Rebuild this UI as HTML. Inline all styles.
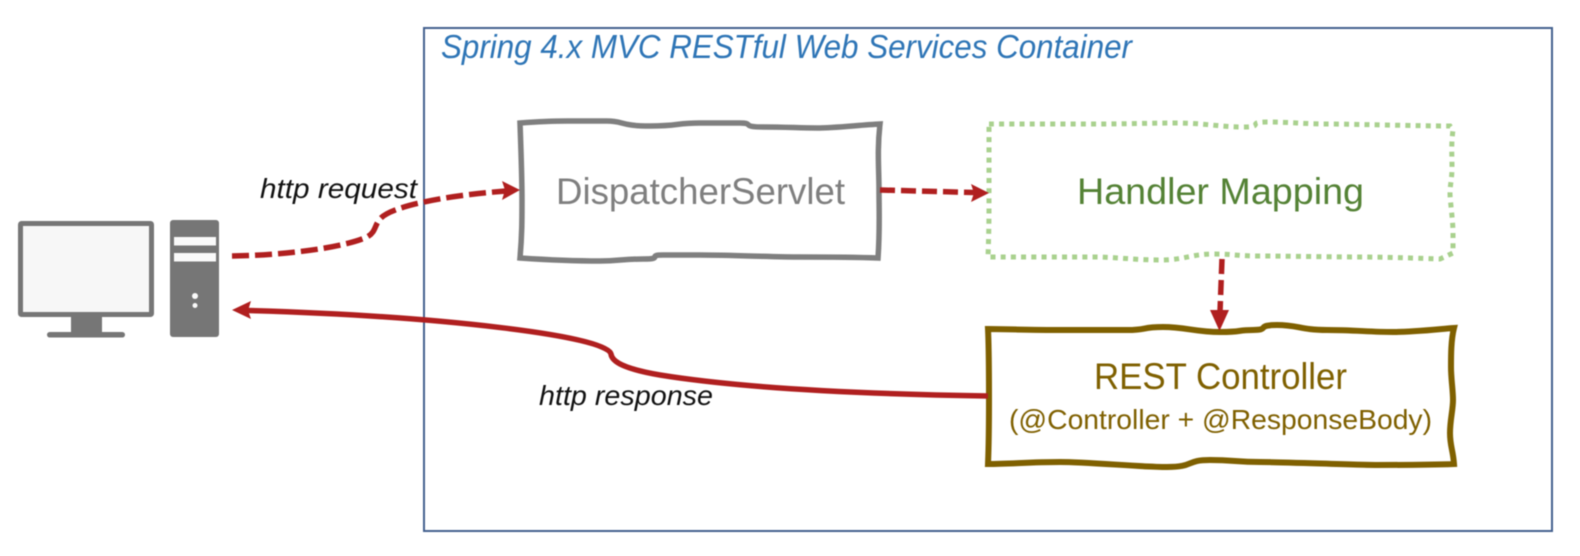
<!DOCTYPE html>
<html>
<head>
<meta charset="utf-8">
<style>
html,body{margin:0;padding:0;background:#fff;width:1580px;height:556px;overflow:hidden}
svg{display:block;filter:blur(0.6px)}
text{font-family:"Liberation Sans",sans-serif}
</style>
</head>
<body>
<svg width="1580" height="556" viewBox="0 0 1580 556" xmlns="http://www.w3.org/2000/svg">
<rect width="1580" height="556" fill="#fff"/>

<!-- container -->
<rect x="424" y="28" width="1128" height="503" fill="none" stroke="#44618f" stroke-width="2"/>
<text x="441" y="58" font-size="33" font-style="italic" fill="#2e75b6" textLength="691" lengthAdjust="spacingAndGlyphs">Spring 4.x MVC RESTful Web Services Container</text>

<!-- computer -->
<rect x="20.5" y="223.5" width="131" height="91" fill="#f7f7f7" stroke="#767676" stroke-width="5" rx="1"/>
<rect x="71" y="316" width="31" height="17" fill="#767676"/>
<rect x="47" y="332" width="78" height="5.5" rx="2.7" fill="#767676"/>
<rect x="170" y="220" width="49" height="117" rx="3" fill="#767676"/>
<rect x="174" y="237" width="42" height="8.5" fill="#fafafa"/>
<rect x="174" y="253" width="42" height="8.5" fill="#fafafa"/>
<circle cx="195" cy="296" r="3" fill="#fafafa"/>
<circle cx="195" cy="305.500" r="2.500" fill="#fafafa"/>

<!-- DispatcherServlet -->
<path d="M520 123 S547 121 567 121 S590 121 607 121 S620 126 650 126 S675 123 700 123 S725 123 740 123 S740 127 763 127 S800 128 817 128 S860 125 880 124 C877 150 879 170 879 190 S880 230 878 258 C850 257 825 257 800 257 S730 255 700 255 S680 255 663 255 S665 259 643 259 S620 261 600 261 S550 260 520 258 C522 235 522 220 522 200 S521 150 520 123 Z" fill="#fff" stroke="#7f7f7f" stroke-width="5.500" stroke-linejoin="miter"/>
<text x="556" y="204" font-size="37" fill="#7f7f7f" textLength="289" lengthAdjust="spacingAndGlyphs">DispatcherServlet</text>

<!-- Handler Mapping -->
<path d="M989 124 S1060 124 1093 124 S1150 123 1177 123 S1220 127 1243 127 S1245 122 1267 122 S1305 124 1327 124 S1420 126 1450 126 L1453 130 C1451 145 1452 155 1452 167 S1450 185 1450 193 S1453 220 1453 233 L1453 253 L1440 259 C1410 258 1385 257 1360 257 S1285 256 1260 256 S1235 254 1213 254 S1185 260 1160 260 S1115 257 1093 257 S1020 257 988 257 C989 230 989 215 989 200 S989 150 989 124 Z" fill="#fff" stroke="#a9d18e" stroke-width="5" stroke-dasharray="5 5.200"/>
<text x="1077" y="204" font-size="37" fill="#548235" textLength="287" lengthAdjust="spacingAndGlyphs">Handler Mapping</text>

<!-- REST Controller -->
<path d="M988 329 S1040 330 1060 330 S1105 330 1127 330 S1140 327 1163 327 S1195 332 1220 332 S1235 330 1253 330 S1255 325 1277 325 S1300 330 1327 330 S1370 332 1393 332 S1440 329 1454 328 C1451 340 1451 355 1451 367 S1453 390 1453 400 S1450 420 1450 433 S1453 450 1454 464 C1425 465 1400 465 1377 465 S1285 462 1260 462 S1235 460 1210 460 S1195 467 1167 467 S1090 462 1060 462 S1010 464 988 464 C989 440 989 420 989 400 S989 350 988 329 Z" fill="#fff" stroke="#7f6000" stroke-width="6"/>
<text x="1094" y="389" font-size="37" fill="#7f6000" textLength="253" lengthAdjust="spacingAndGlyphs">REST Controller</text>
<text x="1009" y="429" font-size="28" fill="#7f6000" textLength="423" lengthAdjust="spacingAndGlyphs">(@Controller + @ResponseBody)</text>

<!-- connectors -->
<g fill="none" stroke="#b01f1f" stroke-width="5.500">
<path d="M232 256 C290 255 345 247 367 237 C376 232 374 226 380 219 C390 207 440 196 506 191" stroke-dasharray="17 6"/>
<path d="M880 190 L974 192.500" stroke-dasharray="15 6"/>
<path d="M1222 259 L1220 312" stroke-dasharray="15 6"/>
<path d="M988 396 C860 394 740 388 660 375 C625 369 612 362 611 354 C608 336 440 316 248 310.500"/>
</g>
<g fill="#b01f1f">
<polygon points="520,190 502,181 505,190 502,200"/>
<polygon points="989,193 971,184 974,193 971,202"/>
<polygon points="1219.500,331 1210,310 1229,310"/>
<polygon points="232,310 251,301 248,310.500 251,319"/>
</g>

<text x="260" y="198" font-size="28" font-style="italic" fill="#111" textLength="157" lengthAdjust="spacingAndGlyphs">http request</text>
<text x="539" y="405" font-size="28" font-style="italic" fill="#111" textLength="174" lengthAdjust="spacingAndGlyphs">http response</text>
</svg>
</body>
</html>
